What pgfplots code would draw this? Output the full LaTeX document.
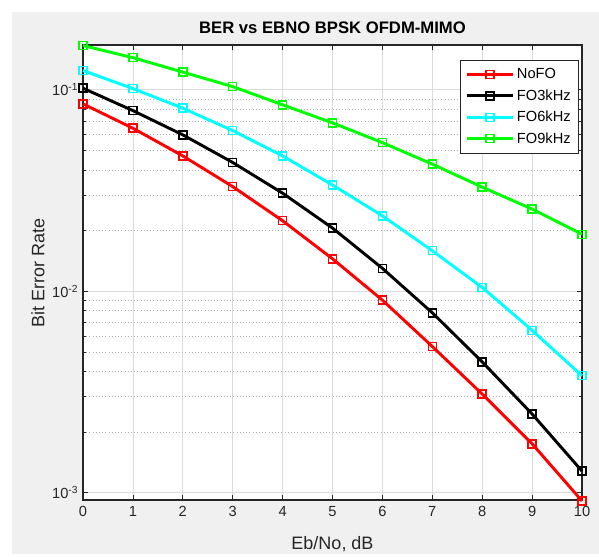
\documentclass[border=0pt]{standalone}
\usepackage{fontspec}
\setmainfont{Liberation Sans}
\usepackage{pgfplots}
\pgfplotsset{compat=1.18}
\definecolor{axgray}{gray}{0.15}
\definecolor{figgray}{RGB}{240,240,240}
\definecolor{mgreen}{RGB}{0,255,0}
\definecolor{mcyan}{RGB}{0,255,255}
\definecolor{mred}{RGB}{255,0,0}
\begin{document}
\begin{tikzpicture}
% 1 px of the reference = 0.75pt; axis box at px x 83..582, y 45..500
\fill[white] (-62.25pt,-40.5pt) rectangle (387pt,375pt);
\fill[figgray] (-53.25pt,-40.5pt) rectangle (387pt,366pt);
\begin{axis}[
  at={(0,0)}, anchor=south west,
  scale only axis, width=374.25pt, height=341.25pt,
  axis background/.style={fill=white},
  ymode=log,
  xmin=0, xmax=10, ymin=9.2e-4, ymax=0.167,
  xtick={0,...,10},
  ytick={1e-3,1e-2,1e-1},
  yticklabels={10\textsuperscript{-3},10\textsuperscript{-2},10\textsuperscript{-1}},
  /pgf/number format/assume math mode=true,
  tick pos=both, tick align=inside,
  major tick length=4pt, minor tick length=2.2pt,
  every tick/.style={axgray, line width=0.6pt},
  axis line style={axgray, line width=0.8pt},
  xmajorgrids, ymajorgrids, yminorgrids,
  major grid style={black!14, line width=0.6pt},
  minor grid style={black!30, dotted, line width=0.6pt},
  tick label style={font=\fontsize{11}{13}\selectfont, text=axgray},
  xticklabel style={yshift=-1pt},
  xlabel={Eb/No, dB},
  ylabel={Bit Error Rate},
  every axis x label/.style={at={(axis description cs:0.5,0)}, anchor=center, yshift=-33pt,
    font=\fontsize{13.5}{15}\selectfont, text=axgray},
  every axis y label/.style={at={(axis description cs:0,0.5)}, xshift=-33.75pt, anchor=center, rotate=90,
    font=\fontsize{13.5}{15}\selectfont, text=axgray},
  title={BER vs EBNO BPSK OFDM-MIMO},
  every axis title/.style={at={(axis description cs:0.5,1)}, anchor=center, yshift=12.75pt, font=\bfseries\fontsize{12.5}{14}\selectfont},
  clip=false,
  legend cell align=left,
  legend style={at={(0.7555,0.967)}, anchor=north west, draw=axgray, line width=0.7pt, fill=white,
    font=\fontsize{11}{13}\selectfont, row sep=2.6pt, inner xsep=4pt, inner ysep=4pt},
  legend image code/.code={\draw[mark repeat=2, mark phase=2] plot coordinates {(0cm,0cm) (0.6cm,0cm) (1.2cm,0cm)};},
  every axis plot/.append style={line width=2.2pt, mark=square, mark size=3pt,
    mark options={line width=1.1pt, solid, fill=none}},
]
\addplot[mred] coordinates {
  (0,0.0852) (1,0.0645) (2,0.0470) (3,0.0331) (4,0.0224) (5,0.0145)
  (6,0.00904) (7,0.00532) (8,0.00309) (9,0.00175) (10,0.00091)
};
\addlegendentry{NoFO}
\addplot[black] coordinates {
  (0,0.1019) (1,0.0789) (2,0.0598) (3,0.0436) (4,0.0307) (5,0.0206)
  (6,0.0130) (7,0.00782) (8,0.00446) (9,0.00246) (10,0.00128)
};
\addlegendentry{FO3kHz}
\addplot[mcyan] coordinates {
  (0,0.1247) (1,0.1015) (2,0.0811) (3,0.0628) (4,0.0470) (5,0.0337)
  (6,0.0237) (7,0.0159) (8,0.01045) (9,0.00640) (10,0.00381)
};
\addlegendentry{FO6kHz}
\addplot[mgreen] coordinates {
  (0,0.166) (1,0.1445) (2,0.1225) (3,0.1038) (4,0.0843) (5,0.0686)
  (6,0.0547) (7,0.0428) (8,0.0329) (9,0.0256) (10,0.0192)
};
\addlegendentry{FO9kHz}
\end{axis}
\useasboundingbox (-62.25pt,-40.5pt) rectangle (387pt,375pt);
\end{tikzpicture}
\end{document}
